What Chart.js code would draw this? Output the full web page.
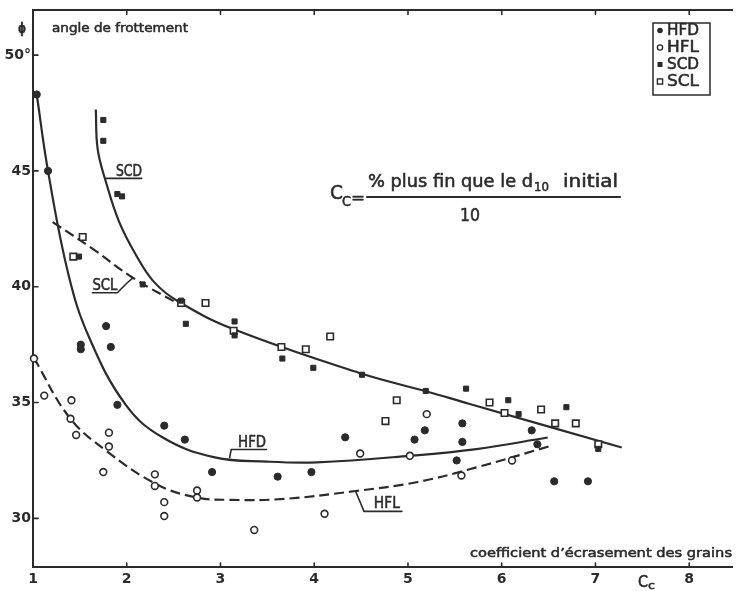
<!DOCTYPE html>
<html lang="fr">
<head>
<meta charset="utf-8">
<title>Angle de frottement et coefficient d'écrasement des grains</title>
<script src="https://cdn.jsdelivr.net/npm/chart.js@4.4.1/dist/chart.umd.min.js"></script>
<style>
  html, body { margin: 0; padding: 0; background: #ffffff; }
  #wrap { width: 739px; height: 591px; }
  canvas { display: block; }
</style>
</head>
<body>
<div id="wrap"><canvas id="c" width="739" height="591"></canvas></div>
<script>
// Axis ticks
const xTickValues = [1, 2, 3, 4, 5, 6, 7, 8];
const yTickValues = [30, 35, 40, 45, 50];

// HFD : filled circles
const hfdX = [1.04, 1.16, 1.51, 1.51, 1.78, 1.83, 1.90, 2.40, 2.62, 2.91, 3.61, 3.97, 4.33, 5.07, 5.18, 5.52, 5.58, 5.58, 6.32, 6.38, 6.56, 6.92];
const hfdY = [48.3, 45.0, 37.5, 37.3, 38.3, 37.4, 34.9, 34.0, 33.4, 32.0, 31.8, 32.0, 33.5, 33.4, 33.8, 32.5, 34.1, 33.3, 33.8, 33.2, 31.6, 31.6];

// HFL : open circles
const hflX = [1.01, 1.12, 1.41, 1.40, 1.46, 1.81, 1.81, 1.75, 2.30, 2.30, 2.40, 2.40, 2.75, 2.75, 3.36, 4.11, 4.49, 5.02, 5.20, 5.57, 6.11];
const hflY = [36.9, 35.3, 35.1, 34.3, 33.6, 33.7, 33.1, 32.0, 31.9, 31.4, 30.7, 30.1, 31.2, 30.9, 29.5, 30.2, 32.8, 32.7, 34.5, 31.85, 32.5];

// SCD : small filled squares
const scdX = [1.75, 1.75, 1.90, 1.95, 1.49, 2.17, 2.58, 2.63, 3.15, 3.15, 3.66, 3.99, 4.51, 5.19, 5.62, 6.07, 6.18, 6.69, 7.03];
const scdY = [47.2, 46.3, 44.0, 43.9, 41.3, 40.1, 39.4, 38.4, 38.5, 37.9, 36.9, 36.5, 36.2, 35.5, 35.6, 35.1, 34.5, 34.8, 33.0];

// SCL : open squares
const sclX = [1.43, 1.53, 2.58, 2.84, 3.14, 3.65, 3.91, 4.17, 4.76, 4.88, 5.87, 6.03, 6.42, 6.57, 6.79, 7.03];
const sclY = [41.3, 42.15, 39.3, 39.3, 38.1, 37.4, 37.3, 37.85, 34.2, 35.1, 35.0, 34.55, 34.7, 34.1, 34.1, 33.2];

// Hand-fitted trend curves
const hfdCurveX = [1.04, 1.16, 1.38, 1.60, 1.99, 2.38, 2.94, 3.50, 4.03, 5.02, 5.73, 6.49];
const hfdCurveY = [48.3, 45.0, 40.5, 37.8, 34.9, 33.5, 32.63, 32.45, 32.42, 32.70, 32.99, 33.49];

const hflCurveX = [1.01, 1.39, 1.78, 2.31, 2.73, 3.10, 3.68, 4.42, 5.09, 5.73, 6.50];
const hflCurveY = [36.92, 34.35, 32.92, 31.49, 30.91, 30.80, 30.84, 31.17, 31.56, 32.20, 33.10];

const scdCurveX = [1.67, 1.69, 1.78, 1.92, 2.10, 2.29, 2.55, 3.15, 4.51, 5.19, 5.65, 7.28];
const scdCurveY = [47.65, 45.94, 44.5, 42.79, 41.36, 40.21, 39.36, 38.15, 36.24, 35.49, 34.95, 33.06];

const sclCurveX = [1.21, 1.65, 2.06, 2.60];
const sclCurveY = [42.79, 41.6, 40.4, 39.15];

const seriesNames = ['HFD', 'HFL', 'SCD', 'SCL'];

const ink = '#2b2b2b';
const FONT = '"DejaVu Sans", "Liberation Sans", sans-serif';

const pairs = (xs, ys) => xs.map((v, i) => ({ x: v, y: ys[i] }));

function pointSet(label, xs, ys, style, radius, fill, bw) {
  return {
    label, data: pairs(xs, ys), showLine: false, order: 0, clip: false,
    pointStyle: style, pointRadius: radius, pointHoverRadius: radius,
    backgroundColor: fill, borderColor: ink, borderWidth: bw
  };
}
function curveSet(label, xs, ys, dash) {
  return {
    label, data: pairs(xs, ys), showLine: true, order: 1, clip: false,
    pointRadius: 0, pointHoverRadius: 0, borderColor: ink, borderWidth: 2.2,
    borderDash: dash, tension: 0.4, cubicInterpolationMode: 'default', fill: false
  };
}

// Text squeezed or stretched to a given width, with a light outline for a pen-stroke weight
function fitText(ctx, str, x, y, w, size, weight) {
  ctx.font = (weight || 'normal') + ' ' + size + 'px ' + FONT;
  const m = ctx.measureText(str).width;
  ctx.save();
  ctx.translate(x, y);
  ctx.scale(w / m, 1);
  ctx.textAlign = 'left';
  ctx.textBaseline = 'alphabetic';
  ctx.lineWidth = 0.55;
  ctx.lineJoin = 'round';
  ctx.fillText(str, 0, 0);
  ctx.strokeText(str, 0, 0);
  ctx.restore();
}

function line(ctx, pts) {
  ctx.beginPath();
  ctx.moveTo(pts[0][0], pts[0][1]);
  for (let i = 1; i < pts.length; i++) ctx.lineTo(pts[i][0], pts[i][1]);
  ctx.stroke();
}

const annotate = {
  id: 'annotate',
  afterDraw(chart) {
    const { ctx } = chart;
    const xs = chart.scales.x, ys = chart.scales.y;
    const X = v => xs.getPixelForValue(v);
    const Y = v => ys.getPixelForValue(v);
    const area = chart.chartArea;
    ctx.save();
    ctx.fillStyle = ink;
    ctx.strokeStyle = ink;
    ctx.lineCap = 'round';
    ctx.lineWidth = 1.6;

    // inward tick marks
    yTickValues.forEach(v => line(ctx, [[area.left, Y(v)], [area.left + 5, Y(v)]]));
    xTickValues.forEach(v => {
      line(ctx, [[X(v), area.bottom], [X(v), area.bottom - 4]]);
      line(ctx, [[X(v), area.top], [X(v), area.top + 4]]);
    });

    // curve labels with underline and leader
    ctx.lineWidth = 1.6;
    fitText(ctx, 'SCD', X(1.885), Y(44.80), 26, 15);
    line(ctx, [[X(1.78), Y(44.68)], [X(2.16), Y(44.68)]]);

    fitText(ctx, 'SCL', X(1.634), Y(39.86), 25, 15);
    line(ctx, [[X(1.634), Y(39.74)], [X(1.90), Y(39.74)], [X(2.00), Y(40.15)], [X(2.06), Y(40.36)]]);

    fitText(ctx, 'HFD', X(3.188), Y(33.09), 28, 15);
    line(ctx, [[X(3.098), Y(32.62)], [X(3.114), Y(32.97)], [X(3.49), Y(32.97)]]);

    fitText(ctx, 'HFL', X(4.636), Y(30.43), 26, 15);
    line(ctx, [[X(4.44), Y(31.18)], [X(4.531), Y(30.30)], [X(4.935), Y(30.30)]]);

    // axis titles
    fitText(ctx, 'ϕ', 18, 33, 8, 14, 'bold');
    fitText(ctx, 'angle de frottement', 52, 32, 136, 13);
    fitText(ctx, 'coefficient d\u2019écrasement des grains', 470, 557, 262, 13);
    fitText(ctx, 'C', 638, 587, 10, 15);
    fitText(ctx, 'c', 648, 589, 7, 11);

    // definition of Cc
    fitText(ctx, 'C', 330, 199, 13, 20);
    fitText(ctx, 'C', 342, 206, 9, 14);
    fitText(ctx, '=', 351, 203, 14, 16);
    fitText(ctx, '% plus fin que le d', 368, 187, 165, 17);
    fitText(ctx, '10', 534, 191, 15, 12);
    fitText(ctx, 'initial', 563, 187, 55, 17);
    ctx.lineWidth = 2;
    line(ctx, [[367, 197], [620, 197]]);
    fitText(ctx, '10', 460, 221, 20, 17);

    // legend box
    ctx.lineWidth = 1.5;
    ctx.strokeRect(653, 23, 57, 72);
    const rows = [35, 52, 69, 86];
    seriesNames.forEach((name, i) => {
      const cy = rows[i] - 4.5;
      const cx = 660;
      ctx.lineWidth = 1.4;
      if (i === 0) { ctx.beginPath(); ctx.arc(cx, cy, 2.8, 0, Math.PI * 2); ctx.fill(); }
      if (i === 1) { ctx.beginPath(); ctx.arc(cx, cy, 2.6, 0, Math.PI * 2); ctx.stroke(); }
      if (i === 2) { ctx.fillRect(cx - 2.5, cy - 2.5, 5, 5); }
      if (i === 3) { ctx.strokeRect(cx - 2.6, cy - 2.6, 5.2, 5.2); }
      fitText(ctx, name, 667, rows[i], 32, 15);
    });
    ctx.restore();
  }
};

new Chart(document.getElementById('c'), {
  type: 'scatter',
  data: {
    datasets: [
      pointSet('HFD', hfdX, hfdY, 'circle', 3.6, ink, 1),
      pointSet('HFL', hflX, hflY, 'circle', 3.4, '#ffffff', 1.6),
      pointSet('SCD', scdX, scdY, 'rect', 3.6, ink, 1),
      pointSet('SCL', sclX, sclY, 'rect', 4.6, '#ffffff', 1.6),
      curveSet('HFD', hfdCurveX, hfdCurveY, []),
      curveSet('HFL', hflCurveX, hflCurveY, [10, 5]),
      curveSet('SCD', scdCurveX, scdCurveY, []),
      curveSet('SCL', sclCurveX, sclCurveY, [10, 5])
    ]
  },
  options: {
    responsive: false,
    animation: false,
    events: [],
    layout: { padding: 0 },
    plugins: { legend: { display: false }, tooltip: { enabled: false } },
    scales: {
      x: {
        type: 'linear', position: 'bottom', min: 1, max: 8.465,
        afterFit(s) { s.height = 24; },
        afterBuildTicks(s) { s.ticks = xTickValues.map(v => ({ value: v })); },
        grid: { display: true, drawOnChartArea: false, drawTicks: false },
        border: { display: true, color: ink, width: 2 },
        ticks: {
          color: ink, padding: 4, maxRotation: 0, autoSkip: false,
          font: { family: FONT, size: 14, weight: '600' },
          callback: v => String(v)
        }
      },
      xTop: {
        type: 'linear', position: 'top', min: 1, max: 8.465,
        afterFit(s) { s.height = 7; },
        grid: { display: true, drawOnChartArea: false, drawTicks: false },
        border: { display: true, color: ink, width: 2 },
        ticks: { display: false }
      },
      y: {
        type: 'linear', position: 'left', min: 27.9, max: 51.93,
        afterFit(s) { s.width = 33; },
        afterBuildTicks(s) { s.ticks = yTickValues.map(v => ({ value: v })); },
        grid: { display: true, drawOnChartArea: false, drawTicks: false },
        border: { display: true, color: ink, width: 2 },
        ticks: {
          color: ink, padding: 2, autoSkip: false,
          font: { family: FONT, size: 14, weight: '600' },
          callback: v => (v === 50 ? '50°' : String(v))
        }
      }
    }
  },
  plugins: [annotate]
});
</script>
</body>
</html>
